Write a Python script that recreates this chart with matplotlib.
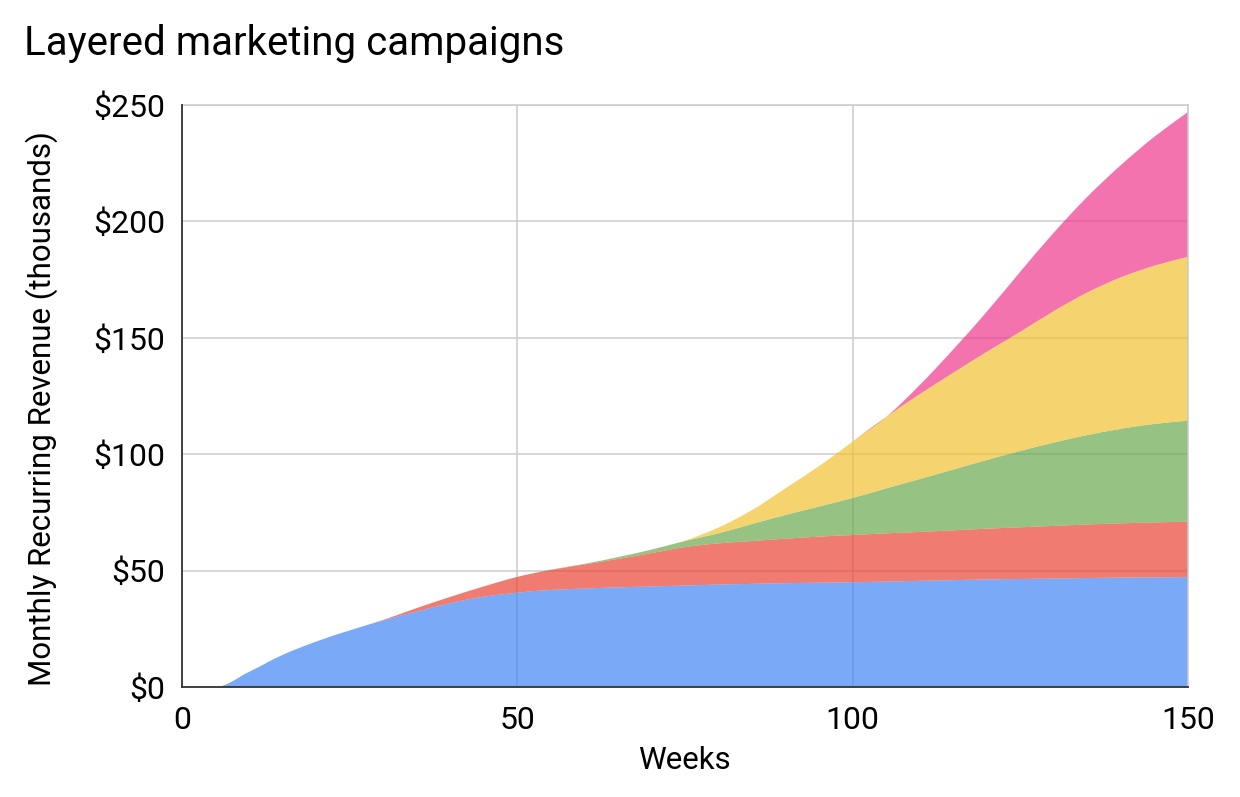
import matplotlib
matplotlib.use("Agg")
import matplotlib.pyplot as plt
import numpy as np
from matplotlib.path import Path
from matplotlib.patches import PathPatch
from matplotlib.ticker import FuncFormatter, MultipleLocator

weeks = list(range(0, 155, 5))
campaign_1 = [0, 0, 6.5, 13.8, 19.5, 24.3, 28.6, 32.4, 36, 38.8, 40.5, 41.7, 42.3, 42.8, 43.2, 43.6,
              44, 44.3, 44.6, 44.8, 45, 45.3, 45.6, 45.9, 46.2, 46.4, 46.6, 46.8, 47, 47.1, 47.2]
campaign_2 = [0, 0, 0, 0, 0, 0, 0.2, 1.5, 2.7, 4.4, 6.8, 8.6, 10.3, 12.2, 14.3, 16.5,
              17.7, 18.4, 19.1, 19.8, 20.3, 20.7, 21, 21.4, 21.8, 22.2, 22.6, 23, 23.3, 23.6, 23.8]
campaign_3 = [0, 0, 0, 0, 0, 0, 0, 0, 0, 0, 0, 0.1, 0.3, 0.8, 1.5, 2.6,
              4.3, 7.3, 10.2, 12.9, 15.9, 19.3, 22.7, 26.1, 29.5, 32.8, 35.8, 38.4, 40.6, 42.3, 43.4]
campaign_4 = [0, 0, 0, 0, 0, 0, 0, 0, 0, 0, 0, 0, 0, 0, 0, 0.2,
              2.5, 6, 11.5, 17.4, 24.2, 30.7, 36.5, 41.6, 46.5, 51.2, 56.5, 61.3, 65.1, 68, 70.4]
campaign_5 = [0, 0, 0, 0, 0, 0, 0, 0, 0, 0, 0, 0, 0, 0, 0, 0,
              0, 0, 0, 0, 0, 0, 3.9, 10, 17.2, 25.8, 33.7, 41.1, 48.2, 55.4, 62.2]
series = [campaign_1, campaign_2, campaign_3, campaign_4, campaign_5]
series_names = ["Campaign 1", "Campaign 2", "Campaign 3", "Campaign 4", "Campaign 5"]
colors = ["#4285F4", "#EA4335", "#6AA84F", "#F1C232", "#EE388E"]

plt.rcParams['font.family'] = ['Roboto', 'DejaVu Sans']


def tangents(x, y):
    """Monotone (Fritsch-Carlson) tangents for smooth curve segments."""
    x = np.asarray(x, float)
    y = np.asarray(y, float)
    h = np.diff(x)
    d = np.diff(y) / h
    m = np.zeros_like(y)
    m[0], m[-1] = d[0], d[-1]
    for i in range(1, len(y) - 1):
        if d[i - 1] * d[i] <= 0:
            m[i] = 0.0
        else:
            w1 = 2 * h[i] + h[i - 1]
            w2 = h[i] + 2 * h[i - 1]
            m[i] = (w1 + w2) / (w1 / d[i - 1] + w2 / d[i])
    return m


def smooth_verts(x, y, reverse=False):
    """Cubic Bezier vertices through the data points (smooth line option)."""
    x = np.asarray(x, float)
    y = np.asarray(y, float)
    m = tangents(x, y)
    idx = range(len(x) - 1)
    verts = []
    if not reverse:
        for i in idx:
            hh = x[i + 1] - x[i]
            verts += [(x[i] + hh / 3, y[i] + m[i] * hh / 3),
                      (x[i + 1] - hh / 3, y[i + 1] - m[i + 1] * hh / 3),
                      (x[i + 1], y[i + 1])]
    else:
        for i in reversed(idx):
            hh = x[i + 1] - x[i]
            verts += [(x[i + 1] - hh / 3, y[i + 1] - m[i + 1] * hh / 3),
                      (x[i] + hh / 3, y[i] + m[i] * hh / 3),
                      (x[i], y[i])]
    return verts


fig = plt.figure(figsize=(12.4, 7.97), dpi=100)
ax = fig.add_axes([182/1240, 1 - 687/797, 1006/1240, 582/797])

lower = np.zeros(len(weeks))
for vals, col, name in zip(series, colors, series_names):
    upper = lower + np.asarray(vals, float)
    verts = [(weeks[0], lower[0]), (weeks[0], upper[0])]
    codes = [Path.MOVETO, Path.LINETO]
    up = smooth_verts(weeks, upper)
    verts += up
    codes += [Path.CURVE4] * len(up)
    verts.append((weeks[-1], lower[-1]))
    codes.append(Path.LINETO)
    lo = smooth_verts(weeks, lower, reverse=True)
    verts += lo
    codes += [Path.CURVE4] * len(lo)
    verts.append((weeks[0], lower[0]))
    codes.append(Path.CLOSEPOLY)
    ax.add_patch(PathPatch(Path(verts, codes), facecolor=col, edgecolor="none",
                           alpha=0.7, zorder=2, label=name))
    lower = upper

ax.set_xlim(0, 150)
ax.set_ylim(0, 250)
ax.xaxis.set_major_locator(MultipleLocator(50))
ax.yaxis.set_major_locator(MultipleLocator(50))
ax.yaxis.set_major_formatter(FuncFormatter(lambda v, p: f"${int(v)}"))
ax.grid(True, color="#cccccc", linewidth=1.1, zorder=1)
ax.set_axisbelow(True)
ax.tick_params(length=0, labelsize=23, colors="#000000")
ax.tick_params(axis='y', pad=12)
ax.tick_params(axis='x', pad=14)

for s in ("top", "right"):
    ax.spines[s].set_color("#cccccc")
    ax.spines[s].set_linewidth(1.1)
for s in ("left", "bottom"):
    ax.spines[s].set_color("#333333")
    ax.spines[s].set_linewidth(1.3)
    ax.spines[s].set_zorder(5)

fig.text(684/1240, 1 - 769/797, "Weeks", fontsize=22.5, ha="center", va="baseline")
ax.set_ylabel("Monthly Recurring Revenue (thousands)", fontsize=22.5)
ax.yaxis.set_label_coords((42 - 182) / 1006, (687 - 408.5) / 582)
ax.yaxis.label.set_va("center")
fig.text(24/1240, 1 - 55/797, "Layered marketing campaigns", fontsize=29, ha="left", va="baseline")

fig.savefig("out.png", dpi=100)
